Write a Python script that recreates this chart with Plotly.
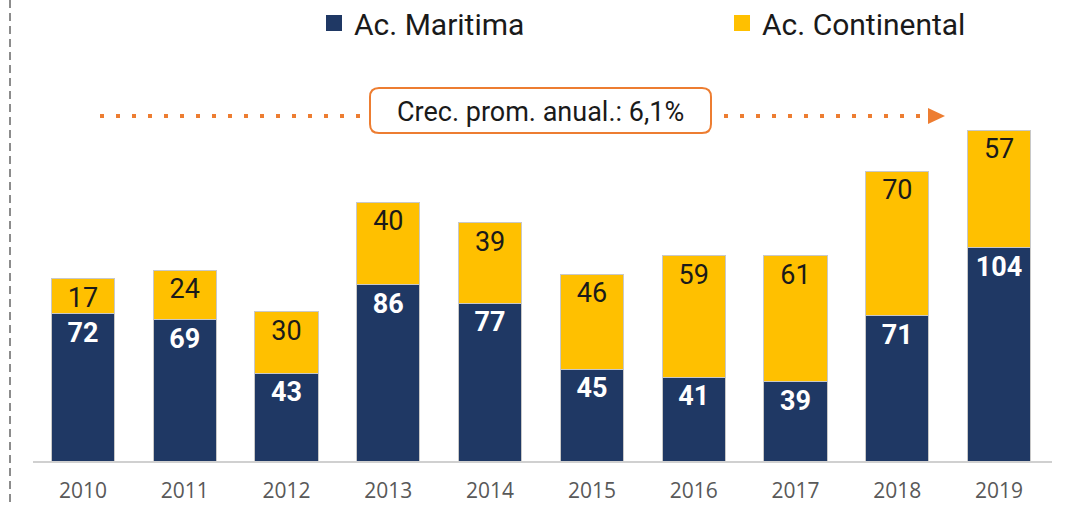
import plotly.graph_objects as go

years = ["2010", "2011", "2012", "2013", "2014", "2015", "2016", "2017", "2018", "2019"]
maritima = [72, 69, 43, 86, 77, 45, 41, 39, 71, 104]
continental = [17, 24, 30, 40, 39, 46, 59, 61, 70, 57]
growth_label = "Crec. prom. anual.: 6,1%"

NAVY = "#1F3864"
YELLOW = "#FFC000"
ORANGE = "#ED7D31"

# plot area in page pixels
L, R, T, B = 32, 1050, 91, 462
W, H = 1076, 507
def fx(p):
    return (p - L) / (R - L)
def fy(p):
    return (B - p) / (B - T)

fig = go.Figure()
fig.add_trace(go.Bar(
    x=years, y=maritima, name="Ac. Maritima", marker=dict(color=NAVY, line=dict(color="#c8c8c8", width=1)),
    text=maritima, textposition="inside", insidetextanchor="end", textangle=0, constraintext="none",
    textfont=dict(color="white", size=27, family="Roboto", weight="bold"),
    showlegend=False, legendgroup="m",
))
fig.add_trace(go.Bar(
    x=years, y=continental, name="Ac. Continental", marker=dict(color=YELLOW, line=dict(color="#c8c8c8", width=1)),
    text=continental, textposition="inside", insidetextanchor="end", textangle=0, constraintext="none",
    textfont=dict(color="#1a1a1a", size=27, family="Roboto"),
    showlegend=False, legendgroup="c",
))
# legend entries
fig.add_trace(go.Scatter(x=[None], y=[None], mode="markers", name="Ac. Maritima", legendgroup="m",
                         legend="legend", marker=dict(symbol="square", size=17, color=NAVY)))
fig.add_trace(go.Scatter(x=[None], y=[None], mode="markers", name="Ac. Continental", legendgroup="c",
                         legend="legend2", marker=dict(symbol="square", size=17, color=YELLOW)))

shapes = []
# left dashed vertical line
shapes.append(dict(type="line", xref="paper", yref="paper", x0=fx(10), x1=fx(10), y0=fy(0), y1=fy(507),
                   line=dict(color="#8c8c8c", width=2, dash="8px,5px")))
# baseline
shapes.append(dict(type="line", xref="paper", yref="paper", x0=fx(33), x1=fx(1052), y0=0, y1=0,
                   line=dict(color="#d0d0d0", width=2)))
# dotted growth line
yl = 116
shapes.append(dict(type="line", xref="paper", yref="paper", x0=fx(100), x1=fx(926), y0=fy(yl), y1=fy(yl),
                   line=dict(color=ORANGE, width=4, dash="4px,12px")))
# arrow head
shapes.append(dict(type="path", xref="paper", yref="paper",
                   path=f"M{fx(928)},{fy(108)} L{fx(945)},{fy(116)} L{fx(928)},{fy(124)} Z",
                   fillcolor=ORANGE, line=dict(width=0)))
# rounded box
x0, x1, y0, y1, r = 370, 711, 88, 133, 9
path = (f"M{fx(x0+r)},{fy(y0)} L{fx(x1-r)},{fy(y0)} Q{fx(x1)},{fy(y0)} {fx(x1)},{fy(y0+r)} "
        f"L{fx(x1)},{fy(y1-r)} Q{fx(x1)},{fy(y1)} {fx(x1-r)},{fy(y1)} "
        f"L{fx(x0+r)},{fy(y1)} Q{fx(x0)},{fy(y1)} {fx(x0)},{fy(y1-r)} "
        f"L{fx(x0)},{fy(y0+r)} Q{fx(x0)},{fy(y0)} {fx(x0+r)},{fy(y0)} Z")
shapes.append(dict(type="path", xref="paper", yref="paper", path=path, fillcolor="white",
                   line=dict(color=ORANGE, width=2)))

legend_common = dict(orientation="h", xanchor="left", yanchor="middle",
                     font=dict(size=30, family="Roboto", color="#1a1a1a"),
                     itemclick=False, itemdoubleclick=False, bgcolor="rgba(0,0,0,0)")

fig.update_layout(
    width=W, height=H,
    margin=dict(l=L, r=W - R, t=T, b=H - B, autoexpand=False),
    barmode="stack", bargap=0.38,
    plot_bgcolor="white", paper_bgcolor="white",
    font=dict(family="Roboto", color="#1a1a1a"),
    shapes=shapes,
    annotations=[dict(text=growth_label, xref="paper", yref="paper", x=fx(540.5), y=fy(112),
                      showarrow=False, font=dict(size=27, family="Roboto", color="#1a1a1a"),
                      xanchor="center", yanchor="middle")],
    legend=dict(x=fx(314), y=fy(23), **legend_common),
    legend2=dict(x=fx(722), y=fy(23), **legend_common),
    xaxis=dict(showgrid=False, showline=False, ticks="", zeroline=False,
               tickfont=dict(size=21, family="Open Sans", color="#595959"), ticklabelstandoff=14),
    yaxis=dict(visible=False, range=[0, 180]),
)

fig.write_html("out.html", config={"displayModeBar": False},
               post_script="document.body.style.margin='0';")
